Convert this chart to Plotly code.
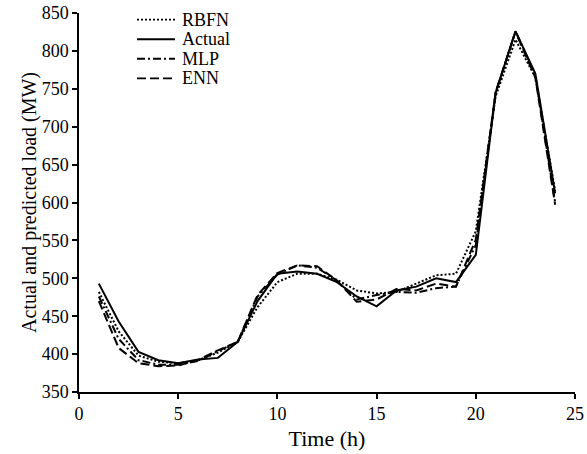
import plotly.graph_objects as go

# hourly load
hours = list(range(1, 25))
actual = [493, 443, 403, 392, 388, 393, 395, 416, 470, 506, 509, 506,
          495, 476, 463, 484, 489, 500, 495, 531, 745, 826, 770, 612]
rbfn = [482, 430, 398, 390, 388, 392, 402, 416, 462, 495, 506, 506,
        498, 484, 480, 482, 493, 504, 506, 562, 740, 815, 765, 615]
mlp = [476, 420, 392, 386, 386, 391, 404, 416, 476, 505, 517, 514,
       497, 472, 478, 482, 481, 487, 489, 544, 745, 826, 768, 600]
enn = [470, 408, 388, 384, 385, 392, 405, 416, 478, 507, 517, 516,
       497, 469, 472, 486, 484, 493, 489, 551, 745, 825, 765, 597]

# legend order as in the original
series = [
    ('RBFN', rbfn, '2px,2px'),
    ('Actual', actual, 'solid'),
    ('MLP', mlp, '8px,3px,2px,3px'),
    ('ENN', enn, '9px,4px'),
]

fig = go.Figure()
for name, vals, dash in series:
    fig.add_trace(go.Scatter(x=hours, y=vals, mode='lines', name=name, showlegend=False,
                             line=dict(color='black', width=2, dash=dash)))

# hand-made legend (plotly's own rows are too tall for this layout)
# plot area is 79..575 px wide, 13.3..391.7 px tall
def px_x(p):
    return (p - 79) / 496.0

def px_y(p):
    return (391.7 - p) / 378.4

for i, (name, vals, dash) in enumerate(series):
    yy = px_y(20 + 19.5 * i)
    fig.add_shape(type='line', xref='paper', yref='paper',
                  x0=px_x(137), x1=px_x(175), y0=yy, y1=yy,
                  line=dict(color='black', width=1.8, dash=dash))
    fig.add_annotation(xref='paper', yref='paper', x=px_x(180), y=yy,
                       text=name, showarrow=False, xanchor='left', yanchor='middle',
                       font=dict(size=18))

font = dict(family='Liberation Serif, Times New Roman, serif', size=18, color='black')

axis_style = dict(showline=True, linecolor='black', linewidth=1.5,
                  ticks='outside', ticklen=5, tickwidth=1.5, tickcolor='black',
                  showgrid=False, zeroline=False, mirror=False, automargin=False)

fig.update_xaxes(range=[0, 25], tickvals=[0, 5, 10, 15, 20, 25],
                 title=dict(text='Time (h)', standoff=7), **axis_style)
fig.update_yaxes(range=[350, 850], dtick=50,
                 title=dict(text='Actual and predicted load (MW)', standoff=0,
                            font=dict(size=20)), **axis_style)

fig.update_layout(
    width=587, height=454,
    margin=dict(l=79, r=12, t=13, b=62),
    paper_bgcolor='white', plot_bgcolor='white',
    font=font,
    showlegend=False,
)

# drop the default body margin so the figure sits at the page corner
fig.write_html("out.html", config={'displayModeBar': False},
               post_script="document.body.style.margin='0';")
